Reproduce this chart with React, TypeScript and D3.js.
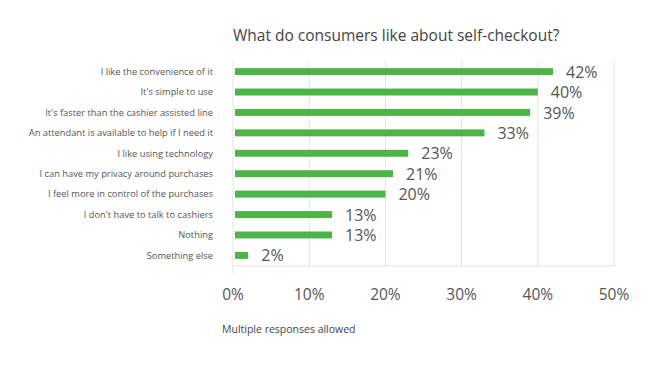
import React, { useEffect, useRef } from 'react'
import * as d3 from 'd3'

const categories = [
  'I like the convenience of it',
  "It's simple to use",
  "It's faster than the cashier assisted line",
  'An attendant is available to help if I need it',
  'I like using technology',
  'I can have my privacy around purchases',
  'I feel more in control of the purchases',
  "I don't have to talk to cashiers",
  'Nothing',
  'Something else',
]
const values = [42, 40, 39, 33, 23, 21, 20, 13, 13, 2]
const xTicks = [0, 10, 20, 30, 40, 50]

const title = 'What do consumers like about self-checkout?'
const note = 'Multiple responses allowed'

function App() {
  const ref = useRef<SVGSVGElement>(null)

  useEffect(() => {
    const width = 655
    const height = 368
    const margin = { top: 61, left: 233, right: 41, bottom: 102 }
    const font = "'Open Sans', 'Noto Sans', sans-serif"

    const svg = d3.select(ref.current)
    svg.selectAll('*').remove()

    const x = d3.scaleLinear()
      .domain([0, 50])
      .range([margin.left, width - margin.right])

    const y = d3.scaleBand()
      .domain(categories)
      .range([margin.top, height - margin.bottom])
      .paddingInner(0.66)
      .paddingOuter(0.35)

    // title
    svg.append('text')
      .attr('x', margin.left)
      .attr('y', 41)
      .attr('font-family', font)
      .attr('font-size', 15.5)
      .attr('fill', '#444')
      .text(title)

    // vertical grid
    svg.append('g')
      .selectAll('line')
      .data(xTicks)
      .join('line')
      .attr('x1', d => x(d))
      .attr('x2', d => x(d))
      .attr('y1', margin.top)
      .attr('y2', d => d === 0 ? height - margin.bottom + 7 : height - margin.bottom)
      .attr('stroke', '#e4e4e4')
      .attr('stroke-width', 1)

    // baseline
    svg.append('line')
      .attr('x1', x(0))
      .attr('x2', x(50))
      .attr('y1', height - margin.bottom)
      .attr('y2', height - margin.bottom)
      .attr('stroke', '#e0e0e0')

    // bars
    svg.append('g')
      .selectAll('rect')
      .data(values)
      .join('rect')
      .attr('x', x(0) + 2)
      .attr('y', (d, i) => y(categories[i])!)
      .attr('width', d => x(d) - x(0) - 2)
      .attr('height', y.bandwidth())
      .attr('fill', '#4db448')

    // value labels
    svg.append('g')
      .selectAll('text')
      .data(values)
      .join('text')
      .attr('x', d => x(d) + 13)
      .attr('y', (d, i) => y(categories[i])! + y.bandwidth() / 2)
      .attr('dy', '0.38em')
      .attr('font-family', font)
      .attr('font-size', 16)
      .attr('fill', '#555')
      .text(d => `${d}%`)

    // category labels
    svg.append('g')
      .selectAll('text')
      .data(categories)
      .join('text')
      .attr('x', 213)
      .attr('y', d => y(d)! + y.bandwidth() / 2)
      .attr('dy', '0.35em')
      .attr('text-anchor', 'end')
      .attr('font-family', font)
      .attr('font-size', 9.3)
      .attr('fill', '#555')
      .text(d => d)

    // x tick labels
    svg.append('g')
      .selectAll('text')
      .data(xTicks)
      .join('text')
      .attr('x', d => x(d))
      .attr('y', 300)
      .attr('text-anchor', 'middle')
      .attr('font-family', font)
      .attr('font-size', 15.5)
      .attr('fill', '#555')
      .text(d => `${d}%`)

    // footnote
    svg.append('text')
      .attr('x', 222)
      .attr('y', 333)
      .attr('font-family', font)
      .attr('font-size', 10.5)
      .attr('fill', '#444')
      .text(note)
  }, [])

  return (
    <svg ref={ref} width={655} height={368}
      style={{ position: 'absolute', left: 0, top: 0, background: '#fff' }} />
  )
}

export default App
